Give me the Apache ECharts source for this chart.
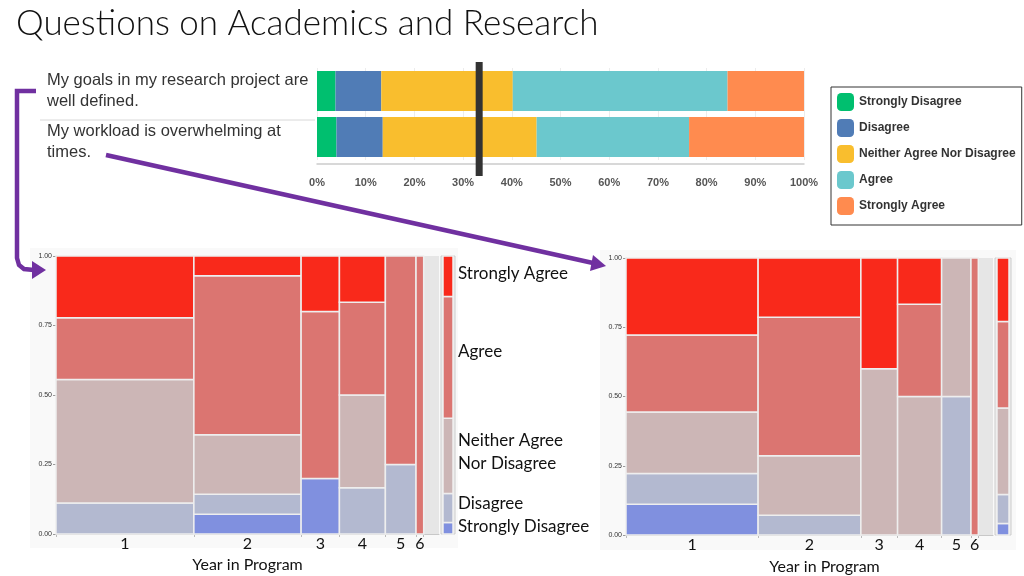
<!DOCTYPE html>
<html><head><meta charset="utf-8">
<script src="https://cdn.jsdelivr.net/npm/echarts@6/dist/echarts.min.js"></script>
<style>html,body{margin:0;padding:0;background:#fff}#c{width:1024px;height:576px}</style>
</head><body><div id="c"></div><script>
// ---------- data ----------
const titleText = 'Questions on Academics and Research';
const questions = ['My goals in my research project are\nwell defined.', 'My workload is overwhelming at\ntimes.'];
const levels = ['Strongly Disagree', 'Disagree', 'Neither Agree Nor Disagree', 'Agree', 'Strongly Agree'];
// survey percentages (row 1 = goals, row 2 = workload)
const pctStronglyDisagree = [3.8, 4.0];
const pctDisagree = [9.4, 9.5];
const pctNeither = [27.0, 31.6];
const pctAgree = [44.1, 31.3];
const pctStronglyAgree = [15.7, 23.6];
const referenceLine = 33.3;
const years = ['1', '2', '3', '4', '5', '6'];
// responses per year in program: [SD, D, N, A, SA]
const goalsByYear = [[0,2,8,4,4],[1,1,3,8,1],[1,0,0,3,1],[0,1,2,2,1],[0,1,0,3,0],[0,0,0,1,0]];
const workloadByYear = [[2,2,4,5,5],[0,1,3,7,3],[0,0,3,0,2],[0,0,3,2,1],[0,2,2,0,0],[0,0,0,1,0]];
const sideLabels = ['Strongly Agree', 'Agree', 'Neither Agree\nNor Disagree', 'Disagree', 'Strongly Disagree'];

// ---------- styles ----------
const barColors = ['#00BF6F', '#507CB6', '#F9BE2E', '#6BC8CD', '#FF8B4F'];
const mosaicColors = ['#8090df', '#b3b9d0', '#ccb6b6', '#db7571', '#f9291b'];
const purple = '#7030a0';

function sum(a) { return a.reduce((s, v) => s + v, 0); }
function mosaicCells(byYear) {
  const cells = []; let x = 0;
  byYear.forEach(row => {
    const n = sum(row); let y = 0;
    row.forEach((c, li) => { if (c > 0) cells.push([x, x + n, y / n, (y + c) / n, li]); y += c; });
    x += n;
  });
  return cells;
}
function marginalCells(byYear) {
  const tot = levels.map((_, li) => sum(byYear.map(r => r[li])));
  const T = sum(tot); const cells = []; let y = 0;
  tot.forEach((c, li) => { if (c > 0) cells.push([0, 1, y / T, (y + c) / T, li]); y += c; });
  return cells;
}
function bounds(byYear) { const b = [0]; byYear.forEach(r => b.push(b[b.length - 1] + sum(r))); return b; }
function centers(byYear) { const b = bounds(byYear); return b.slice(0, -1).map((v, i) => (v + b[i + 1]) / 2); }

function renderer(inset) {
  return function (params, api) {
    const p0 = api.coord([api.value(0), api.value(2)]);
    const p1 = api.coord([api.value(1), api.value(3)]);
    return {
      type: 'rect',
      shape: { x: p0[0] + inset, y: p1[1], width: p1[0] - p0[0] - 2 * inset, height: p0[1] - p1[1] },
      style: { fill: mosaicColors[api.value(4)], stroke: '#eeeeee', lineWidth: 1.5 }
    };
  };
}

function mosaicAxes(byYear, gi, nameGap) {
  const c = centers(byYear);
  const x = {
    type: 'value', gridIndex: gi, min: 0, max: 50,
    axisLine: { show: true, lineStyle: { color: '#c8c8c8' } },
    axisTick: { show: true, customValues: bounds(byYear), length: 3, lineStyle: { color: '#bbb' } },
    axisLabel: {
      customValues: c, margin: 2, fontSize: 16, color: '#111', fontFamily: 'Lato',
      formatter: v => { const i = c.findIndex(k => Math.abs(k - v) < 1e-6); return i >= 0 ? years[i] : ''; }
    },
    splitLine: { show: false },
    name: 'Year in Program', nameLocation: 'middle', nameGap: nameGap,
    nameTextStyle: { fontSize: 16, color: '#111', fontFamily: 'Lato' }
  };
  const y = {
    type: 'value', gridIndex: gi, min: 0, max: 1, interval: 0.25,
    axisLine: { show: true, lineStyle: { color: '#d0d0d0' } },
    axisTick: { show: true, length: 3, lineStyle: { color: '#999' } },
    axisLabel: { fontSize: 7, color: '#333', margin: 4, fontFamily: 'Liberation Sans', formatter: v => v.toFixed(2) },
    splitLine: { show: false }
  };
  return [x, y];
}
function hiddenAxes(gi) {
  return [
    { type: 'value', gridIndex: gi, min: 0, max: 1, show: false },
    { type: 'value', gridIndex: gi, min: 0, max: 1, show: false }
  ];
}

const chart = echarts.init(document.getElementById('c'), null, { renderer: 'canvas' });

const [lx, ly] = mosaicAxes(goalsByYear, 1, 23);
const [rx, ry] = mosaicAxes(workloadByYear, 3, 24);
rx.nameTextStyle.padding = [0, 0, 0, 30];
const [mlx, mly] = hiddenAxes(2);
const [mrx, mry] = hiddenAxes(4);

const pctSeries = [pctStronglyDisagree, pctDisagree, pctNeither, pctAgree, pctStronglyAgree];
const qFont = { fontSize: 16.5, lineHeight: 21, color: '#333', fontFamily: 'Liberation Sans', align: 'left' };

const option = {
  animation: false,
  backgroundColor: '#ffffff',
  title: {
    text: titleText, left: 11, top: 1,
    textStyle: { fontFamily: 'Lato', fontWeight: 300, fontSize: 35, color: '#111' }
  },
  legend: {
    data: levels, orient: 'vertical', left: 831, top: 87,
    icon: 'roundRect', itemWidth: 17, itemHeight: 18, itemGap: 8,
    borderColor: '#333', borderWidth: 1, padding: [6, 6, 10, 6],
    textStyle: { fontSize: 12, fontWeight: 'bold', color: '#333', fontFamily: 'Liberation Sans' }
  },
  grid: [
    { left: 317, top: 68, width: 487, height: 92, outerBoundsMode: 'none' },
    { left: 56, top: 256, width: 383, height: 278, show: true, backgroundColor: '#e6e6e6', borderWidth: 0, outerBoundsMode: 'none' },
    { left: 441, top: 256, width: 14, height: 278, show: true, backgroundColor: '#f0f0f0', borderColor: '#cccccc', borderWidth: 1, outerBoundsMode: 'none' },
    { left: 626, top: 258, width: 367, height: 277, show: true, backgroundColor: '#e6e6e6', borderWidth: 0, outerBoundsMode: 'none' },
    { left: 995, top: 258, width: 16, height: 277, show: true, backgroundColor: '#f0f0f0', borderColor: '#cccccc', borderWidth: 1, outerBoundsMode: 'none' }
  ],
  xAxis: [
    {
      type: 'value', gridIndex: 0, min: 0, max: 100, interval: 10, offset: 4,
      axisLine: { show: true, lineStyle: { color: '#cccccc', width: 1.5 } },
      axisTick: { show: false },
      axisLabel: { formatter: '{value}%', fontSize: 11, fontWeight: 'bold', color: '#555', margin: 13, fontFamily: 'Liberation Sans' },
      splitLine: { show: true, lineStyle: { color: '#ececec' } }
    },
    lx, mlx, rx, mrx
  ],
  yAxis: [
    {
      type: 'category', gridIndex: 0, inverse: true, data: questions,
      axisLine: { show: false }, axisTick: { show: false },
      axisLabel: Object.assign({
        margin: 270, interval: 0, hideOverlap: false,
        formatter: (v, i) => {
          const lines = v.split('\n');
          return i === 0 ? lines.map(l => '{a|' + l + '}').join('\n')
                         : lines.map((l, k) => (k === 0 ? '{p|' : '{a|') + l + '}').join('\n');
        },
        rich: {
          a: Object.assign({}, qFont),
          p: Object.assign({ padding: [9, 0, 0, 0] }, qFont, { lineHeight: 30 })
        }
      }, qFont)
    },
    ly, mly, ry, mry
  ],
  series: levels.map((name, i) => ({
    name, type: 'bar', stack: 'total', xAxisIndex: 0, yAxisIndex: 0,
    barWidth: 40, data: pctSeries[i], itemStyle: { color: barColors[i] }
  })).concat([
    { name: 'goalsMosaic', type: 'custom', xAxisIndex: 1, yAxisIndex: 1, renderItem: renderer(0), encode: { x: [0, 1], y: [2, 3] }, data: mosaicCells(goalsByYear) },
    { name: 'goalsMargin', type: 'custom', xAxisIndex: 2, yAxisIndex: 2, renderItem: renderer(2), encode: { x: [0, 1], y: [2, 3] }, data: marginalCells(goalsByYear) },
    { name: 'workMosaic', type: 'custom', xAxisIndex: 3, yAxisIndex: 3, renderItem: renderer(0), encode: { x: [0, 1], y: [2, 3] }, data: mosaicCells(workloadByYear) },
    { name: 'workMargin', type: 'custom', xAxisIndex: 4, yAxisIndex: 4, renderItem: renderer(2), encode: { x: [0, 1], y: [2, 3] }, data: marginalCells(workloadByYear) }
  ])
};
chart.setOption(option);

// annotations
const refX = chart.convertToPixel({ xAxisIndex: 0 }, referenceLine);
const sideY = [274, 352, 452, 504, 527];
const graphics = [
  { type: 'rect', z: -10, shape: { x: 30, y: 248, width: 428, height: 300 }, style: { fill: '#f9f9f9' } },
  { type: 'rect', z: -10, shape: { x: 600, y: 250, width: 416, height: 300 }, style: { fill: '#f9f9f9' } },
  { type: 'rect', z: 100, shape: { x: refX - 3.5, y: 62, width: 7, height: 114 }, style: { fill: '#333333' } },
  { type: 'line', shape: { x1: 40, y1: 120, x2: 315, y2: 120 }, style: { stroke: '#d8d8d8', lineWidth: 1 } },
  { type: 'polyline', z: 100, shape: { points: [[36, 91], [17, 91], [17, 258], [19, 265], [24, 269], [34, 270]] }, style: { stroke: purple, lineWidth: 4.5, fill: null } },
  { type: 'polygon', z: 100, shape: { points: [[32, 261], [46, 270], [32, 279]] }, style: { fill: purple } },
  { type: 'line', z: 100, shape: { x1: 106, y1: 155, x2: 593, y2: 263 }, style: { stroke: purple, lineWidth: 4.5 } },
  { type: 'polygon', z: 100, shape: { points: [[606, 266], [593, 255], [590, 271]] }, style: { fill: purple } }
];
sideLabels.forEach((t, i) => {
  graphics.push({
    type: 'text', z: 100, x: 458, y: sideY[i],
    style: { text: t, fontSize: 17, fontFamily: 'Lato', fill: '#111', lineHeight: 23, verticalAlign: 'middle', align: 'left' }
  });
});
chart.setOption({ graphic: graphics });
</script></body></html>
